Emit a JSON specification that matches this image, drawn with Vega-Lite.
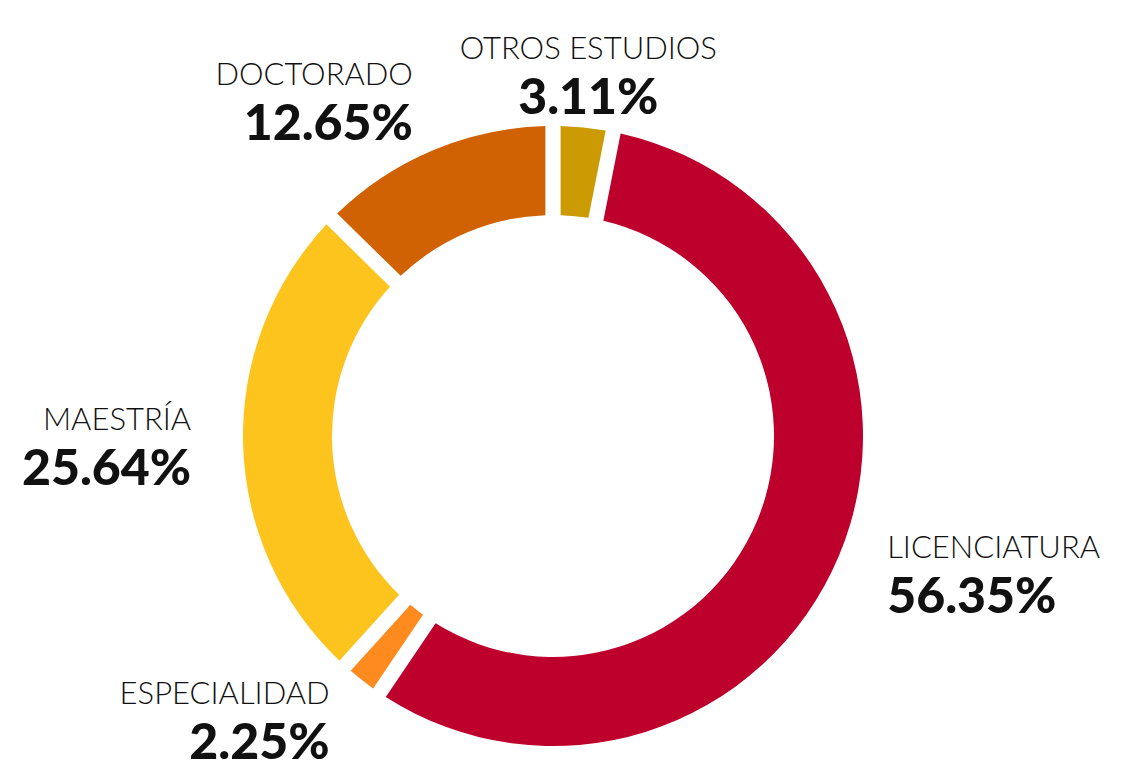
{
  "$schema": "https://vega.github.io/schema/vega-lite/v6.json",
  "width": 1106,
  "height": 682,
  "padding": {"left": 0, "top": 95, "right": 35, "bottom": 0},
  "autosize": {"type": "none"},
  "background": "white",
  "config": {"view": {"stroke": null}},
  "data": {
    "values": [
      {"nivel": "Otros estudios", "porcentaje": 0.0311, "orden": 1},
      {"nivel": "Licenciatura", "porcentaje": 0.5635, "orden": 2},
      {"nivel": "Especialidad", "porcentaje": 0.0225, "orden": 3},
      {"nivel": "Maestría", "porcentaje": 0.2564, "orden": 4},
      {"nivel": "Doctorado", "porcentaje": 0.1265, "orden": 5}
    ]
  },
  "encoding": {
    "theta": {"field": "porcentaje", "type": "quantitative", "stack": true},
    "order": {"field": "orden", "type": "quantitative"}
  },
  "layer": [
    {
      "mark": {"type": "arc", "innerRadius": 221, "outerRadius": 310, "padAngle": 0.04},
      "encoding": {
        "color": {
          "field": "nivel",
          "type": "nominal",
          "scale": {
            "domain": ["Otros estudios", "Licenciatura", "Especialidad", "Maestría", "Doctorado"],
            "range": ["#CC9B04", "#BE002C", "#FF8A1E", "#FEC41E", "#D06203"]
          },
          "legend": null
        }
      }
    },
    {
      "mark": {
        "type": "text",
        "radius": 362,
        "dy": -17,
        "baseline": "alphabetic",
        "font": "Lato",
        "fontWeight": 300,
        "fontSize": 31,
        "color": "#111111",
        "align": {"expr": "((datum.porcentaje_start + datum.porcentaje_end) / 2 < 0.05 || (datum.porcentaje_start + datum.porcentaje_end) / 2 > 0.95) ? 'center' : ((datum.porcentaje_start + datum.porcentaje_end) / 2 < 0.5 ? 'left' : 'right')"},
        "text": {"expr": "upper(datum.nivel)"}
      },
      "encoding": {}
    },
    {
      "mark": {
        "type": "text",
        "radius": 362,
        "dy": 38,
        "baseline": "alphabetic",
        "font": "Lato",
        "fontWeight": 900,
        "fontSize": 50,
        "color": "#111111",
        "align": {"expr": "((datum.porcentaje_start + datum.porcentaje_end) / 2 < 0.05 || (datum.porcentaje_start + datum.porcentaje_end) / 2 > 0.95) ? 'center' : ((datum.porcentaje_start + datum.porcentaje_end) / 2 < 0.5 ? 'left' : 'right')"}
      },
      "encoding": {
        "text": {"field": "porcentaje", "type": "quantitative", "format": ".2%"}
      }
    }
  ]
}
